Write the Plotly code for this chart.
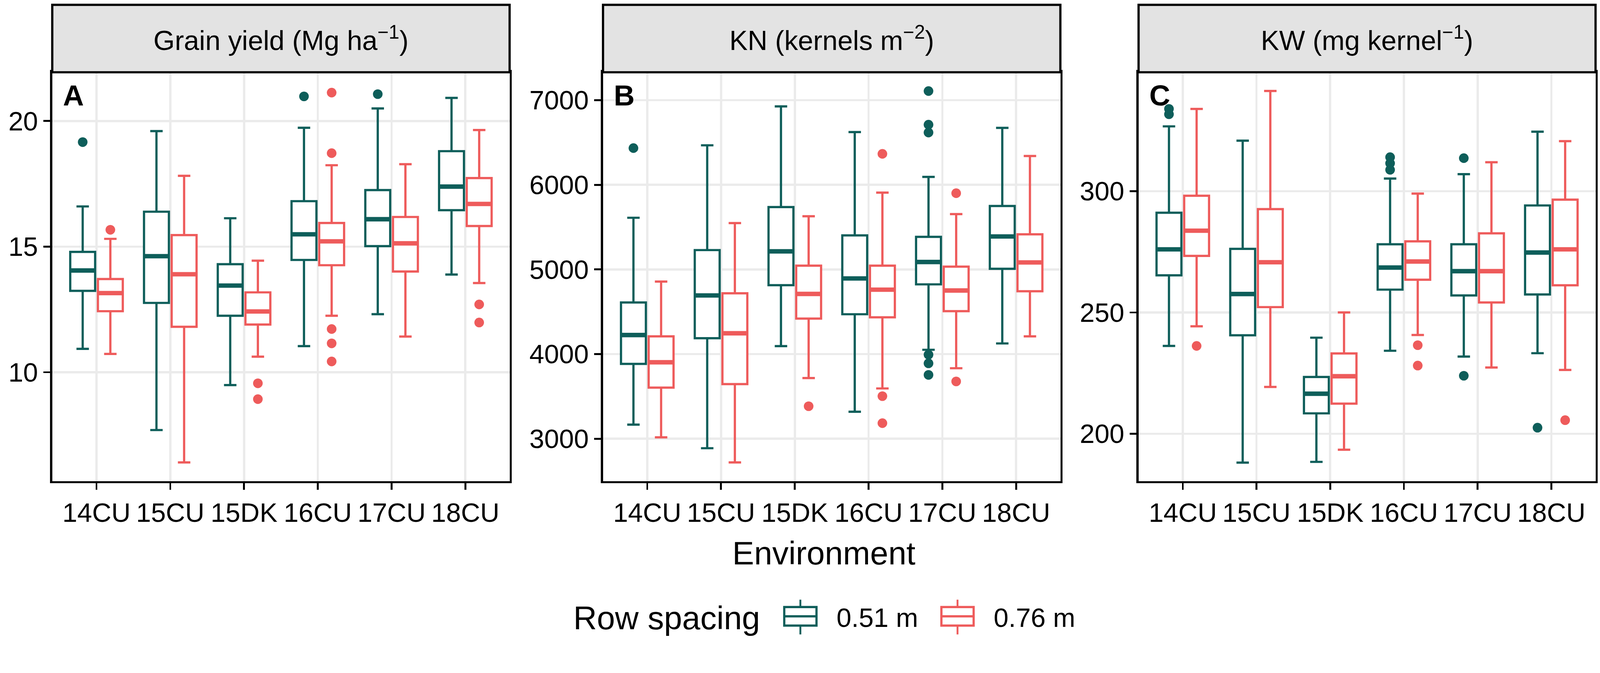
import plotly.graph_objects as go

envs = ["14CU", "15CU", "15DK", "16CU", "17CU", "18CU"]
spacings = ["0.51 m", "0.76 m"]
colors = ["#0E5E5A", "#EE5B5B"]

# five-number summaries per environment: (lower whisker, q1, median, q3, upper whisker)
yield_051 = [(10.93, 13.24, 14.05, 14.79, 16.60), (7.70, 12.76, 14.62, 16.39, 19.60),
             (9.49, 12.25, 13.45, 14.30, 16.13), (11.04, 14.47, 15.49, 16.81, 19.73),
             (12.31, 15.02, 16.09, 17.25, 20.50), (13.89, 16.45, 17.39, 18.80, 20.92)]
yield_076 = [(10.73, 12.43, 13.15, 13.71, 15.31), (6.41, 11.81, 13.90, 15.46, 17.82),
             (10.62, 11.90, 12.42, 13.18, 14.44), (12.25, 14.26, 15.21, 15.94, 18.24),
             (11.42, 14.01, 15.13, 16.18, 18.28), (13.55, 15.82, 16.70, 17.73, 19.64)]
yield_051_out_env = ["14CU", "16CU", "17CU"]
yield_051_out_val = [19.16, 20.98, 21.07]
yield_076_out_env = ["14CU", "15DK", "15DK", "16CU", "16CU", "16CU", "16CU", "16CU", "18CU", "18CU"]
yield_076_out_val = [15.67, 9.56, 8.93, 21.13, 18.72, 11.72, 11.15, 10.43, 12.70, 11.98]

kn_051 = [(3167, 3884, 4225, 4610, 5611), (2888, 4188, 4693, 5229, 6467),
          (4094, 4814, 5214, 5737, 6927), (3319, 4471, 4894, 5403, 6623),
          (4051, 4824, 5088, 5385, 6094), (4126, 5008, 5390, 5750, 6673)]
kn_076 = [(3017, 3604, 3903, 4210, 4857), (2720, 3645, 4246, 4718, 5548),
          (3717, 4420, 4711, 5045, 5629), (3594, 4435, 4761, 5045, 5908),
          (3833, 4507, 4751, 5033, 5654), (4210, 4743, 5083, 5415, 6341)]
kn_051_out_env = ["14CU", "17CU", "17CU", "17CU", "17CU", "17CU", "17CU"]
kn_051_out_val = [6434, 7108, 6711, 6618, 3993, 3891, 3754]
kn_076_out_env = ["15DK", "16CU", "16CU", "16CU", "17CU", "17CU"]
kn_076_out_val = [3384, 6366, 3503, 3184, 5901, 3677]

kw_051 = [(236.2, 265.3, 276.0, 291.1, 326.7), (188.1, 240.6, 257.6, 276.2, 320.8),
          (188.4, 208.4, 216.5, 223.4, 239.6), (234.2, 259.4, 268.5, 278.1, 305.2),
          (231.8, 257.0, 267.0, 278.1, 307.0), (233.2, 257.4, 274.7, 294.1, 324.5)]
kw_076 = [(244.3, 273.3, 283.7, 298.1, 333.9), (219.3, 252.2, 270.7, 292.6, 341.3),
          (193.4, 212.4, 223.7, 233.1, 250.0), (240.7, 263.5, 271.0, 279.3, 299.0),
          (227.3, 254.1, 267.0, 282.6, 311.9), (226.3, 261.2, 276.0, 296.5, 320.6)]
kw_051_out_env = ["14CU", "14CU", "16CU", "16CU", "16CU", "17CU", "17CU", "18CU"]
kw_051_out_val = [333.9, 331.7, 314.0, 311.5, 308.8, 313.6, 223.9, 202.5]
kw_076_out_env = ["14CU", "16CU", "16CU", "18CU"]
kw_076_out_val = [236.2, 236.5, 228.1, 205.6]

panel_titles = ["Grain yield (Mg ha<sup>\u22121</sup>)", "KN (kernels m<sup>\u22122</sup>)",
                "KW (mg kernel<sup>\u22121</sup>)"]
panel_letters = ["A", "B", "C"]
y_ranges = [[5.67, 21.94], [2500, 7330], [180.5, 349]]
y_ticks = [[10, 15, 20], [3000, 4000, 5000, 6000, 7000], [200, 250, 300]]

panels = [
    [(yield_051, yield_051_out_env, yield_051_out_val), (yield_076, yield_076_out_env, yield_076_out_val)],
    [(kn_051, kn_051_out_env, kn_051_out_val), (kn_076, kn_076_out_env, kn_076_out_val)],
    [(kw_051, kw_051_out_env, kw_051_out_val), (kw_076, kw_076_out_env, kw_076_out_val)],
]

W, H = 4317, 1723
px = lambda v: v / W          # horizontal pixel -> paper
py = lambda v: (H - v) / H    # vertical pixel (from top) -> paper
x_domains = [[px(141), px(1375)], [px(1627), px(2861)], [px(3072), px(4305)]]
y_domain = [py(1298), py(195)]
strip_top = py(13)

dodge = [-0.1875, 0.1875]
box_w = 0.3375
FONT = "Liberation Sans, Arial, sans-serif"

fig = go.Figure()
shapes = []
annotations = []

for p, panel in enumerate(panels):
    xa = "x" if p == 0 else f"x{p + 1}"
    ya = "y" if p == 0 else f"y{p + 1}"
    for s, (stats, out_env, out_val) in enumerate(panel):
        pos = [i + 1 + dodge[s] for i in range(len(envs))]
        fig.add_trace(go.Box(
            x=pos,
            lowerfence=[t[0] for t in stats], q1=[t[1] for t in stats],
            median=[t[2] for t in stats], q3=[t[3] for t in stats],
            upperfence=[t[4] for t in stats],
            width=box_w, boxpoints=False, fillcolor="white",
            line=dict(color=colors[s], width=6),
            name=spacings[s], showlegend=False,
            xaxis=xa, yaxis=ya, hoverinfo="skip",
        ))
        # thicker median bars, as in ggplot
        mx, my = [], []
        for x0, t in zip(pos, stats):
            mx += [x0 - box_w / 2, x0 + box_w / 2, None]
            my += [t[2], t[2], None]
        fig.add_trace(go.Scatter(x=mx, y=my, mode="lines", line=dict(color=colors[s], width=12),
                                 showlegend=False, xaxis=xa, yaxis=ya, hoverinfo="skip"))
        ox = [envs.index(e) + 1 + dodge[s] for e in out_env]
        fig.add_trace(go.Scatter(x=ox, y=out_val, mode="markers",
                                 marker=dict(color=colors[s], size=26),
                                 showlegend=False, xaxis=xa, yaxis=ya, hoverinfo="skip"))

    axis_common = dict(showline=True, linecolor="black", linewidth=6, mirror=True,
                       showgrid=True, gridcolor="#EBEBEB", gridwidth=6, zeroline=False,
                       ticks="outside", ticklen=18, tickwidth=5, tickcolor="black",
                       tickfont=dict(size=72, color="black", family=FONT))
    fig.layout[xa.replace("x", "xaxis")] = dict(
        axis_common, domain=x_domains[p], range=[0.4, 6.6],
        tickvals=list(range(1, len(envs) + 1)), ticktext=envs, anchor=ya)
    fig.layout[ya.replace("y", "yaxis")] = dict(
        axis_common, domain=y_domain, range=y_ranges[p], tickvals=y_ticks[p], anchor=xa)

    shapes.append(dict(type="rect", xref="paper", yref="paper",
                       x0=x_domains[p][0], x1=x_domains[p][1], y0=y_domain[1], y1=strip_top,
                       fillcolor="#E3E3E3", line=dict(color="black", width=6), layer="above"))
    annotations.append(dict(text=panel_titles[p], xref="paper", yref="paper",
                            x=sum(x_domains[p]) / 2, y=(y_domain[1] + strip_top) / 2,
                            xanchor="center", yanchor="middle",
                            showarrow=False, font=dict(size=74, color="black", family=FONT)))
    annotations.append(dict(text=f"<b>{panel_letters[p]}</b>", xref=f"{xa} domain", yref=f"{ya} domain",
                            x=0.022, y=0.985, xanchor="left", yanchor="top", showarrow=False,
                            font=dict(size=78, color="black", family=FONT)))

annotations.append(dict(text="Environment", xref="paper", yref="paper",
                        x=(x_domains[0][0] + x_domains[2][1]) / 2, y=py(1492),
                        xanchor="center", yanchor="middle",
                        showarrow=False, font=dict(size=88, color="black", family=FONT)))

# legend drawn by hand so the keys are as large as in the original
annotations.append(dict(text="Row spacing", xref="paper", yref="paper", x=px(1545), y=py(1667),
                        xanchor="left", yanchor="middle", showarrow=False,
                        font=dict(size=88, color="black", family=FONT)))
key_left = [2116, 2540]
for s in range(2):
    k0, k1 = key_left[s], key_left[s] + 87
    kc = (k0 + k1) / 2
    shapes.append(dict(type="line", xref="paper", yref="paper", x0=px(kc), x1=px(kc),
                       y0=py(1618), y1=py(1712), line=dict(color=colors[s], width=5)))
    shapes.append(dict(type="rect", xref="paper", yref="paper", x0=px(k0), x1=px(k1),
                       y0=py(1638), y1=py(1688), fillcolor="white",
                       line=dict(color=colors[s], width=6)))
    shapes.append(dict(type="line", xref="paper", yref="paper", x0=px(k0), x1=px(k1),
                       y0=py(1663), y1=py(1663), line=dict(color=colors[s], width=6)))
    annotations.append(dict(text=spacings[s], xref="paper", yref="paper", x=px(k1 + 52), y=py(1667),
                            xanchor="left", yanchor="middle", showarrow=False,
                            font=dict(size=72, color="black", family=FONT)))

fig.update_layout(
    width=W, height=H, margin=dict(l=0, r=0, t=0, b=0),
    paper_bgcolor="white", plot_bgcolor="white",
    font=dict(family=FONT, color="black"),
    shapes=shapes, annotations=annotations, showlegend=False,
)

# the page can come up narrower than the figure; shrink the figure to fit it
fit_js = """
document.body.style.margin = '0';
document.body.style.overflow = 'hidden';
var gd = document.getElementById('{plot_id}');
var s = Math.min(window.innerWidth / %d, window.innerHeight / %d);
if (s < 1) { gd.style.transformOrigin = '0 0'; gd.style.transform = 'scale(' + s + ')'; }
""" % (W, H)

fig.write_html("out.html", post_script=fit_js, config={"displayModeBar": False})
